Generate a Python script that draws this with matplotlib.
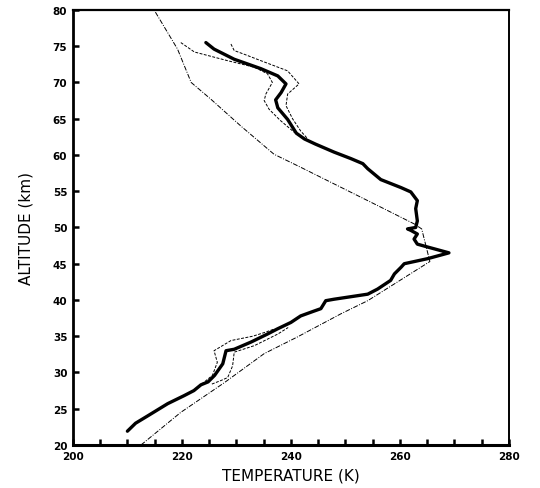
import matplotlib
matplotlib.use("Agg")
import matplotlib.pyplot as plt
from matplotlib.ticker import MultipleLocator

# ── Measured profile (thick line) ──
obs_t = [210.0, 211.5, 213.7, 217.4, 220.4, 222.2, 223.5, 224.8, 226.0, 227.5,
         228.1, 229.6, 232.7, 235.7, 237.5, 240.0, 241.8, 244.0, 245.5, 246.4,
         247.9, 254.1, 255.9, 258.3, 259.0, 260.2, 260.8, 265.1, 269.0, 265.1,
         263.2, 262.6, 263.2, 262.0, 261.4, 262.9, 263.2, 262.9, 263.2, 262.0,
         260.2, 256.5, 254.1, 253.2, 251.0, 247.9, 244.5, 242.5, 241.0, 239.4,
         237.6, 237.2, 238.2, 239.1, 237.6, 234.5, 229.6, 225.9, 224.4]
obs_z = [21.9, 23.0, 24.0, 25.7, 26.8, 27.5, 28.3, 28.7, 29.6, 31.2,
         33.0, 33.2, 34.2, 35.3, 36.0, 36.9, 37.8, 38.4, 38.8, 39.9,
         40.1, 40.8, 41.5, 42.7, 43.6, 44.5, 45.0, 45.7, 46.5, 47.3,
         47.7, 48.4, 49.1, 49.6, 49.8, 50.0, 50.9, 52.6, 53.7, 54.9,
         55.5, 56.6, 58.1, 58.8, 59.5, 60.4, 61.5, 62.2, 63.0, 64.9,
         66.5, 67.6, 68.6, 69.8, 70.9, 71.9, 73.2, 74.6, 75.5]

# ── Error envelopes (thin dashed), upper segment ──
up_lo_t = [219.8, 222.3, 228.4, 233.3, 235.7, 236.6, 235.4, 235.1, 236.0, 238.0, 240.5, 242.5]
up_lo_z = [75.5, 74.2, 73.0, 72.1, 71.2, 70.0, 68.4, 67.5, 66.3, 64.8, 63.2, 62.2]
up_hi_t = [229.0, 229.6, 231.4, 234.5, 239.4, 241.5, 239.4, 239.1, 240.3, 241.8, 243.0]
up_hi_z = [75.3, 74.4, 73.9, 73.0, 71.6, 69.8, 68.4, 66.8, 65.0, 63.3, 62.3]

# ── Error envelopes, lower segment ──
lo_lo_t = [223.0, 225.6, 226.5, 225.9, 229.0, 233.0, 235.1, 237.0]
lo_lo_z = [28.0, 29.6, 31.4, 33.0, 34.4, 35.0, 35.5, 36.0]
lo_hi_t = [225.5, 227.2, 228.4, 229.3, 229.6, 233.3, 237.6, 239.5]
lo_hi_z = [28.4, 28.9, 29.3, 30.9, 32.8, 33.7, 35.3, 36.2]

# ── Reference model profile (thin dash-dot) ──
mod_t = [212.5, 219.8, 227.8, 235.1, 241.2, 249.2, 254.1, 265.5, 264.0, 262.6,
         256.5, 241.8, 236.9, 230.8, 225.3, 221.7, 219.2, 214.9]
mod_z = [20.0, 24.5, 28.6, 32.6, 34.9, 38.1, 39.9, 45.3, 49.8, 50.5,
         52.8, 58.3, 60.1, 64.0, 67.7, 70.0, 74.6, 80.0]

fig = plt.figure(figsize=(5.40, 4.89), dpi=100)
ax = fig.add_axes([0.135, 0.088, 0.8074, 0.8896])

ax.plot(mod_t, mod_z, color="black", lw=0.7, ls=(0, (5, 1.5, 1, 1.5)))
for t, z in [(up_lo_t, up_lo_z), (up_hi_t, up_hi_z), (lo_lo_t, lo_lo_z), (lo_hi_t, lo_hi_z)]:
    ax.plot(t, z, color="black", lw=0.7, ls=(0, (3, 1.5)))
ax.plot(obs_t, obs_z, color="black", lw=2.4, solid_capstyle="round",
        solid_joinstyle="round")

ax.set_xlim(200, 280)
ax.set_ylim(20, 80)
ax.xaxis.set_major_locator(MultipleLocator(20))
ax.xaxis.set_minor_locator(MultipleLocator(5))
ax.yaxis.set_major_locator(MultipleLocator(5))
ax.tick_params(which="both", direction="in", length=4, width=1.8,
               top=False, right=False, labelsize=7.5, pad=4)
for lab in ax.get_xticklabels() + ax.get_yticklabels():
    lab.set_fontweight("bold")

for side, lw in [("left", 2.0), ("bottom", 2.2), ("top", 1.6), ("right", 1.4)]:
    ax.spines[side].set_linewidth(lw)

ax.set_xlabel("TEMPERATURE (K)", fontsize=11, labelpad=5)
ax.set_ylabel("ALTITUDE (km)", fontsize=11, labelpad=14)

fig.savefig("out.png", dpi=100)
